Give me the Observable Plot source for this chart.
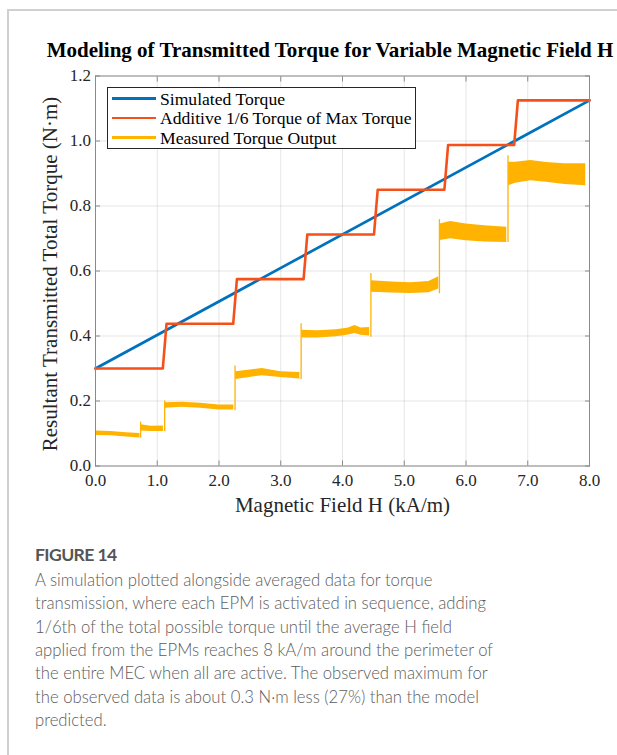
<!DOCTYPE html>
<html><head><meta charset="utf-8">
<script src="https://cdn.jsdelivr.net/npm/d3@7"></script>
<script src="https://cdn.jsdelivr.net/npm/@observablehq/plot@0.6"></script>
<style>
body{margin:0;background:#fff;width:617px;height:755px;overflow:hidden;position:relative;font-family:"Liberation Serif","Times New Roman",serif}
#frame{position:absolute;left:7px;top:9px;width:700px;height:800px;border-left:2px solid #d0d0d0;border-top:2px solid #d0d0d0}
#chart{position:absolute;left:0;top:0}
#title{position:absolute;left:30px;width:600px;top:38px;line-height:24px;text-align:center;font-weight:bold;font-size:21px;white-space:nowrap;color:#000}
#legend{position:absolute;left:107px;top:87px;width:307px;height:60px;border:1px solid #262626;background:#fff}
.lrow{position:absolute;left:0;height:20px;width:300px}
.lrow .sw{position:absolute;left:4px;top:8.7px;width:44px;height:2.6px}
.lrow .lt{position:absolute;left:52px;top:0;line-height:20px;font-size:17.6px;white-space:nowrap;color:#000}
#figlabel{position:absolute;left:35px;top:543.5px;font-family:Lato,sans-serif;font-weight:bold;font-size:17.6px;letter-spacing:-0.6px;line-height:22px;color:#555}
#caption{position:absolute;left:35px;top:569px;font-family:Lato,sans-serif;font-weight:300;font-size:16.7px;line-height:23.35px;color:#5c5c5c;white-space:nowrap}
</style></head>
<body>
<div id="frame"></div>
<div id="chart"></div>
<div id="title">Modeling of Transmitted Torque for Variable Magnetic Field H</div>
<div id="legend"></div>
<div id="figlabel">FIGURE 14</div>
<div id="caption">A simulation plotted alongside averaged data for torque<br>transmission, where each EPM is activated in sequence, adding<br>1/6th of the total possible torque until the average H field<br>applied from the EPMs reaches 8 kA/m around the perimeter of<br>the entire MEC when all are active. The observed maximum for<br>the observed data is about 0.3 N·m less (27%) than the model<br>predicted.</div>
<script>
// ---- data ----
const xTicks = [0, 1, 2, 3, 4, 5, 6, 7, 8];
const yTicks = [0, 0.2, 0.4, 0.6, 0.8, 1.0, 1.2];
const seriesNames = ["Simulated Torque", "Additive 1/6 Torque of Max Torque", "Measured Torque Output"];
const seriesColors = ["#0072BD", "#F5501A", "#FFB300"];

// Simulated torque (straight line)
const simX = [0, 8];
const simY = [0.30, 1.125];

// Additive 1/6 step line
const stepX = [0, 1.09, 1.15, 2.23, 2.29, 3.37, 3.43, 4.51, 4.57, 5.65, 5.71, 6.78, 6.84, 8.0];
const stepY = [0.30, 0.30, 0.4375, 0.4375, 0.575, 0.575, 0.7125, 0.7125, 0.85, 0.85, 0.9875, 0.9875, 1.125, 1.125];

// Measured torque: envelope (low/high) of the noisy signal per plateau
const measSeg = [0,0,0,0, 1,1,1, 2,2,2,2,2, 3,3,3,3, 4,4,4,4,4,4,4, 5,5,5,5,5, 6,6,6,6,6, 7,7,7,7,7,7];
const measX  = [0, 0.25, 0.5, 0.72, 0.74, 0.9, 1.1, 1.13, 1.4, 1.7, 2.0, 2.24, 2.27, 2.7, 3.0, 3.31, 3.34, 3.6, 3.9, 4.1, 4.2, 4.3, 4.44, 4.47, 4.8, 5.1, 5.4, 5.56, 5.58, 5.75, 6.0, 6.3, 6.66, 6.69, 6.8, 7.05, 7.3, 7.6, 7.94];
const measLo = [0.094, 0.093, 0.089, 0.086, 0.108, 0.106, 0.106, 0.178, 0.181, 0.178, 0.172, 0.172, 0.266, 0.278, 0.272, 0.268, 0.394, 0.394, 0.398, 0.403, 0.408, 0.402, 0.400, 0.535, 0.532, 0.531, 0.533, 0.545, 0.694, 0.699, 0.693, 0.689, 0.688, 0.862, 0.870, 0.878, 0.873, 0.866, 0.862];
const measHi = [0.108, 0.106, 0.102, 0.100, 0.127, 0.122, 0.123, 0.195, 0.196, 0.193, 0.188, 0.188, 0.290, 0.300, 0.290, 0.288, 0.418, 0.416, 0.419, 0.425, 0.432, 0.425, 0.426, 0.570, 0.566, 0.564, 0.568, 0.582, 0.745, 0.752, 0.745, 0.739, 0.735, 0.935, 0.935, 0.940, 0.934, 0.930, 0.930];

// Measured torque: transition spikes between plateaus
const jumpX  = [0.73, 1.12, 2.26, 3.33, 4.46, 5.57, 6.68];
const jumpLo = [0.086, 0.106, 0.170, 0.266, 0.396, 0.530, 0.688];
const jumpHi = [0.135, 0.200, 0.308, 0.438, 0.592, 0.758, 0.955];

// ---- tables ----
const sim = simX.map((x, i) => ({x, y: simY[i]}));
const step = stepX.map((x, i) => ({x, y: stepY[i]}));
const meas = measX.map((x, i) => ({x, lo: measLo[i], hi: measHi[i], seg: measSeg[i]}));
const jumps = jumpX.map((x, i) => ({x, lo: jumpLo[i], hi: jumpHi[i]}));

const fmt = d3.format(".1f");
const axisGray = "#8a8a8a";
const chart = Plot.plot({
  width: 617, height: 520,
  marginLeft: 95, marginRight: 28, marginTop: 75.5, marginBottom: 54.5,
  x: {domain: [0, 8]},
  y: {domain: [0, 1.2]},
  style: {fontFamily: "'Liberation Serif', 'Times New Roman', serif", fontSize: "17px", color: "#262626", background: "transparent", overflow: "visible"},
  marks: [
    Plot.gridX(xTicks, {stroke: "#000", strokeOpacity: 0.1}),
    Plot.gridY(yTicks, {stroke: "#000", strokeOpacity: 0.1}),
    Plot.line(sim, {x: "x", y: "y", stroke: seriesColors[0], strokeWidth: 2.7}),
    Plot.line(step, {x: "x", y: "y", stroke: seriesColors[1], strokeWidth: 2.6}),
    Plot.areaY(meas, {x: "x", y1: "lo", y2: "hi", z: "seg", fill: seriesColors[2]}),
    Plot.ruleX(jumps, {x: "x", y1: "lo", y2: "hi", stroke: seriesColors[2], strokeWidth: 1.3}),
    Plot.frame({stroke: axisGray}),
    // inward ticks on all four sides
    Plot.axisX(xTicks, {anchor: "bottom", tickSize: 5, dy: -5, tickFormat: () => "", label: null, stroke: axisGray}),
    Plot.axisX(xTicks, {anchor: "top", tickSize: 5, dy: 5, tickFormat: () => "", label: null, stroke: axisGray}),
    Plot.axisY(yTicks, {anchor: "left", tickSize: 5, dx: 5, tickFormat: () => "", label: null, stroke: axisGray}),
    Plot.axisY(yTicks, {anchor: "right", tickSize: 5, dx: -5, tickFormat: () => "", label: null, stroke: axisGray}),
    // tick labels
    Plot.axisX(xTicks, {anchor: "bottom", tickSize: 0, tickPadding: 8, tickFormat: fmt, label: null, fill: "#262626"}),
    Plot.axisY(yTicks, {anchor: "left", tickSize: 0, tickPadding: 4.5, tickFormat: fmt, label: null, fill: "#262626"}),
    // axis titles
    Plot.text(["Magnetic Field H (kA/m)"], {frameAnchor: "bottom", textAnchor: "middle", lineAnchor: "bottom", dy: 46, fontSize: 21, fill: "#262626"}),
    Plot.text(["Resultant Transmitted Total Torque (N·m)"], {frameAnchor: "left", textAnchor: "middle", lineAnchor: "middle", rotate: -90, dx: -45, dy: 3, fontSize: 21, fill: "#262626"})
  ]
});
document.getElementById("chart").appendChild(chart);

// legend
const legend = document.getElementById("legend");
seriesNames.forEach((name, i) => {
  const row = document.createElement("div");
  row.className = "lrow";
  row.style.top = (0.5 + i * 19.5) + "px";
  const sw = document.createElement("div");
  sw.className = "sw";
  sw.style.background = seriesColors[i];
  const lt = document.createElement("div");
  lt.className = "lt";
  lt.textContent = name;
  row.appendChild(sw); row.appendChild(lt);
  legend.appendChild(row);
});
</script>
</body></html>
